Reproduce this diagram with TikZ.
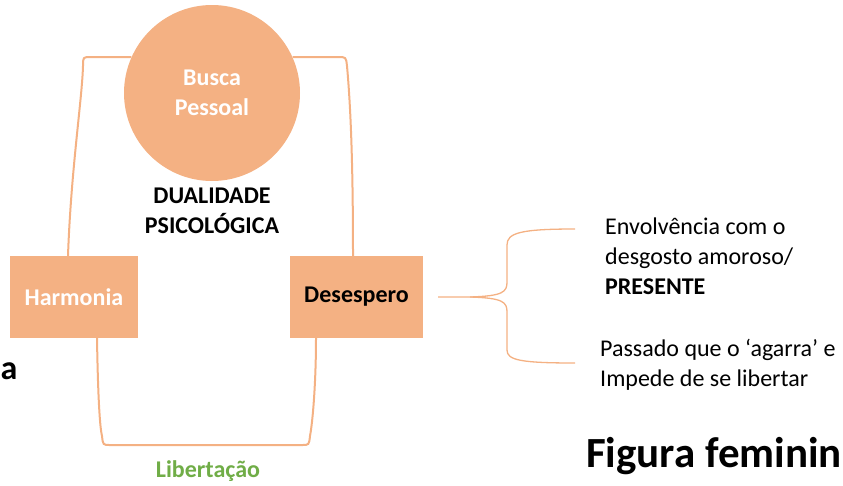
\documentclass[tikz,border=0pt]{standalone}
\usepackage{fontspec}
\setmainfont{Carlito}
\definecolor{peach}{HTML}{F4B183}
\definecolor{leafgreen}{HTML}{70AD47}
\newcommand\BodyText{\fontsize{24}{30}\selectfont}
\newcommand\TitleText{\fontsize{43}{50}\selectfont\bfseries}
\tikzset{
    ring/.style={draw=peach,line width=2pt},
    moodbox/.style={fill=peach,minimum width=#1,minimum height=82pt,inner sep=0pt,font=\BodyText\bfseries},
}

\begin{document}
\begin{tikzpicture}[x=1pt,y=-1pt]
    \useasboundingbox (0,0) rectangle (843,485);
    \clip (0,0) rectangle (843,485);
    % nodes
    \node[circle,fill=peach,minimum size=176pt,inner sep=0pt,text=white,align=center,font=\BodyText\bfseries] (busca) at (212,93) {Busca\\Pessoal};
    \node[align=center,font=\BodyText\bfseries] (dual) at (212,211) {DUALIDADE\\PSICOLÓGICA};
    \node[moodbox=128pt,text=white] (harm) at (74,297) {Harmonia};
    \node[moodbox=133pt] (desesp) at (356.5,297) {Desespero};
    \node[font=\BodyText\bfseries,text=leafgreen] (liber) at (208,471) {Libertação};
    % upper loop
    \draw[ring] ([xshift=-6pt]harm.north) .. controls (71,170) and (82,100) .. (83,66)
        .. controls (83,57) .. (91,57) -- (busca.156);
    \draw[ring] (busca.24) -- (338,57) .. controls (346,57) .. (347,66)
        .. controls (351,110) and (353,170) .. ([xshift=-3.5pt]desesp.north);
    % lower loop
    \draw[ring] ([xshift=23pt]harm.south) .. controls (98,400) and (100,428) .. (102,436)
        .. controls (103,445) .. (110,445) -- (302,445) .. controls (309,445) .. (310,436)
        .. controls (313,420) and (316,380) .. ([xshift=-40.5pt]desesp.south);
    % brace
    \coordinate (tip) at (470,297);
    \coordinate (up) at (575,229);
    \coordinate (down) at (575,363);
    \draw[ring,line width=1.3pt] ([xshift=15pt]desesp.east) -- (tip) .. controls (503,296) and (507,292) .. (507,282)
        -- (507,245) .. controls (507,233) and (520,229) .. (up);
    \draw[ring,line width=1.3pt] (tip) .. controls (503,298) and (507,302) .. (507,312)
        -- (507,350) .. controls (507,360) and (520,363) .. (down);
    \node[anchor=west,align=left,inner sep=0pt,font=\BodyText] (envolv) at (605,256) {Envolvência com o\\desgosto amoroso/\\\textbf{PRESENTE}};
    \node[anchor=west,align=left,inner sep=0pt,font=\BodyText] (passado) at (600,365) {Passado que o ‘agarra’ e\\Impede de se libertar};
    % titles
    \node[anchor=base west,inner sep=0pt,font=\TitleText] (fem) at (586,467) {Figura feminin};
    \node[anchor=base west,inner sep=0pt,font=\fontsize{34}{40}\selectfont\bfseries] (masc) at (0.5,379) {a};
\end{tikzpicture}
\end{document}
